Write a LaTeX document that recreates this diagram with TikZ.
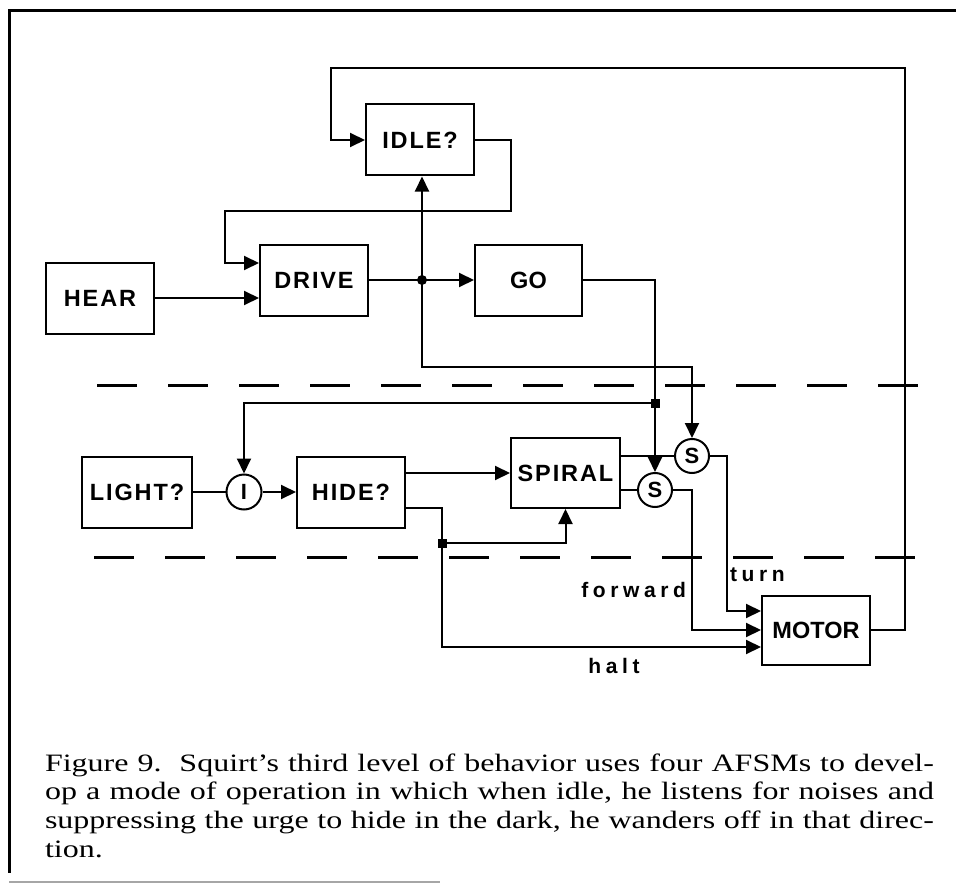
\documentclass[tikz,border=0pt]{standalone}
\usepackage{fontspec}
\setmainfont{Liberation Serif}
\newfontfamily\lblfont[LetterSpace=8]{Liberation Sans}
\newfontfamily\plainlbl{Liberation Sans}
\newfontfamily\wirefont[LetterSpace=22]{Liberation Sans}
\newfontfamily\capfont[FakeStretch=1.28]{Liberation Serif}
\usetikzlibrary{arrows.meta}
\begin{document}
\begin{tikzpicture}[x=1pt,y=-1pt,line width=2pt,
  box/.style={draw,rectangle,line width=2pt,inner sep=0pt,minimum width=108pt,minimum height=71pt,
    font=\lblfont\bfseries\fontsize{23.5}{27}\selectfont},
  plainbox/.style={box,font=\plainlbl\bfseries\fontsize{23.5}{27}\selectfont},
  sw/.style={draw,circle,line width=2pt,inner sep=0pt,minimum size=35pt,
    font=\plainlbl\bfseries\fontsize{22}{24}\selectfont},
  arr/.style={-{Triangle[length=15pt,width=14pt]}},
  wire/.style={inner sep=0pt,font=\wirefont\bfseries\fontsize{21}{24}\selectfont},
  sep/.style={line width=3pt,dash pattern=on 40pt off 31pt},
  capline/.style={anchor=base west,inner sep=0pt,font=\capfont\fontsize{25}{28}\selectfont}]
\useasboundingbox (0,0) rectangle (956,888);
% frame
\draw[line width=3pt] (956,11) -- (9,11) -- (9,873);
\draw[line width=1.5pt,gray!70] (9,882) -- (440,882);
% layer separators
\draw[sep] (97,385) -- (920,385);
\draw[sep] (94,557) -- (922,557);
% boxes
\node[box] (hear) at (100,298) {HEAR};
\node[box] (drive) at (314,280) {DRIVE};
\node[box] (idle) at (420,140) {IDLE?};
\node[plainbox,minimum width=107pt] (go) at (528.5,280) {GO};
\node[box,minimum width=110pt] (light) at (137,492) {LIGHT?};
\node[box] (hide) at (351,492) {HIDE?};
\node[box,minimum width=109pt,minimum height=70pt] (spiral) at (565.5,473) {SPIRAL};
\node[plainbox,minimum height=69pt] (motor) at (816,630) {MOTOR};
\node[sw] (inh) at (244,492) {I};
\node[sw,minimum size=34pt] (sup) at (692,456) {S};
\node[sw,minimum size=34pt] (slo) at (655,490) {S};
% junctions
\coordinate (j1) at (422,280);
\coordinate (j2) at (655,403);
\coordinate (j3) at (442,543);
% connectors
\draw[arr] (hear.east) -- (hear.east -| drive.west);
\draw[arr] (idle.east) -- ++(36,0) -- ++(0,71) -- (225,211) -- (225,263) -- ([yshift=17pt]drive.west);
\draw[arr] (drive.east) -- (go.west);
\draw[arr] (j1) -- (j1 |- idle.south);
\draw[arr] (j1) -- (422,367) -| (sup.north);
\draw[arr] (go.east) -| (slo.north);
\draw[arr] (j2) -| (inh.north);
\draw (light.east) -- (inh.west);
\draw[arr] (inh.east) -- (hide.west);
\draw[arr] (hide.east |- spiral.west) -- (spiral.west);
\draw ([yshift=-16pt]hide.east) -| (j3);
\draw[arr] (j3) -| (spiral.south);
\draw[arr] (j3) |- ([yshift=-17pt]motor.west);
\draw (spiral.east |- sup.west) -- (sup.west);
\draw (spiral.east |- slo.west) -- (slo.west);
\draw[arr] (sup.east) -- ++(17,0) |- ([yshift=19pt]motor.west);
\draw[arr] (slo.east) -- ++(19,0) |- (motor.west);
\draw[arr] (motor.east) -- (905,630) -- (905,68) -- (331,68) |- (idle.west);
\fill (j1) circle (5pt);
\fill ([shift={(-4.5pt,-4.5pt)}]j2) rectangle ([shift={(4.5pt,4.5pt)}]j2);
\fill ([shift={(-4.5pt,-4.5pt)}]j3) rectangle ([shift={(4.5pt,4.5pt)}]j3);
% wire labels
\node[wire,anchor=base east] (lfwd) at (687,597) {forward};
\node[wire,anchor=base west] (lturn) at (729,581) {turn};
\node[wire,anchor=base] (lhalt) at (614,673) {halt};
% caption
\node[capline] (cap1) at (44,771) {\makebox[889pt][s]{Figure 9.\ \ Squirt’s third level of behavior uses four AFSMs to devel-}};
\node[capline] (cap2) at (44,799.7) {\makebox[889pt][s]{op a mode of operation in which when idle, he listens for noises and}};
\node[capline] (cap3) at (44,828.4) {\makebox[889pt][s]{suppressing the urge to hide in the dark, he wanders off in that direc-}};
\node[capline] (cap4) at (44,857) {tion.};
\end{tikzpicture}
\end{document}
